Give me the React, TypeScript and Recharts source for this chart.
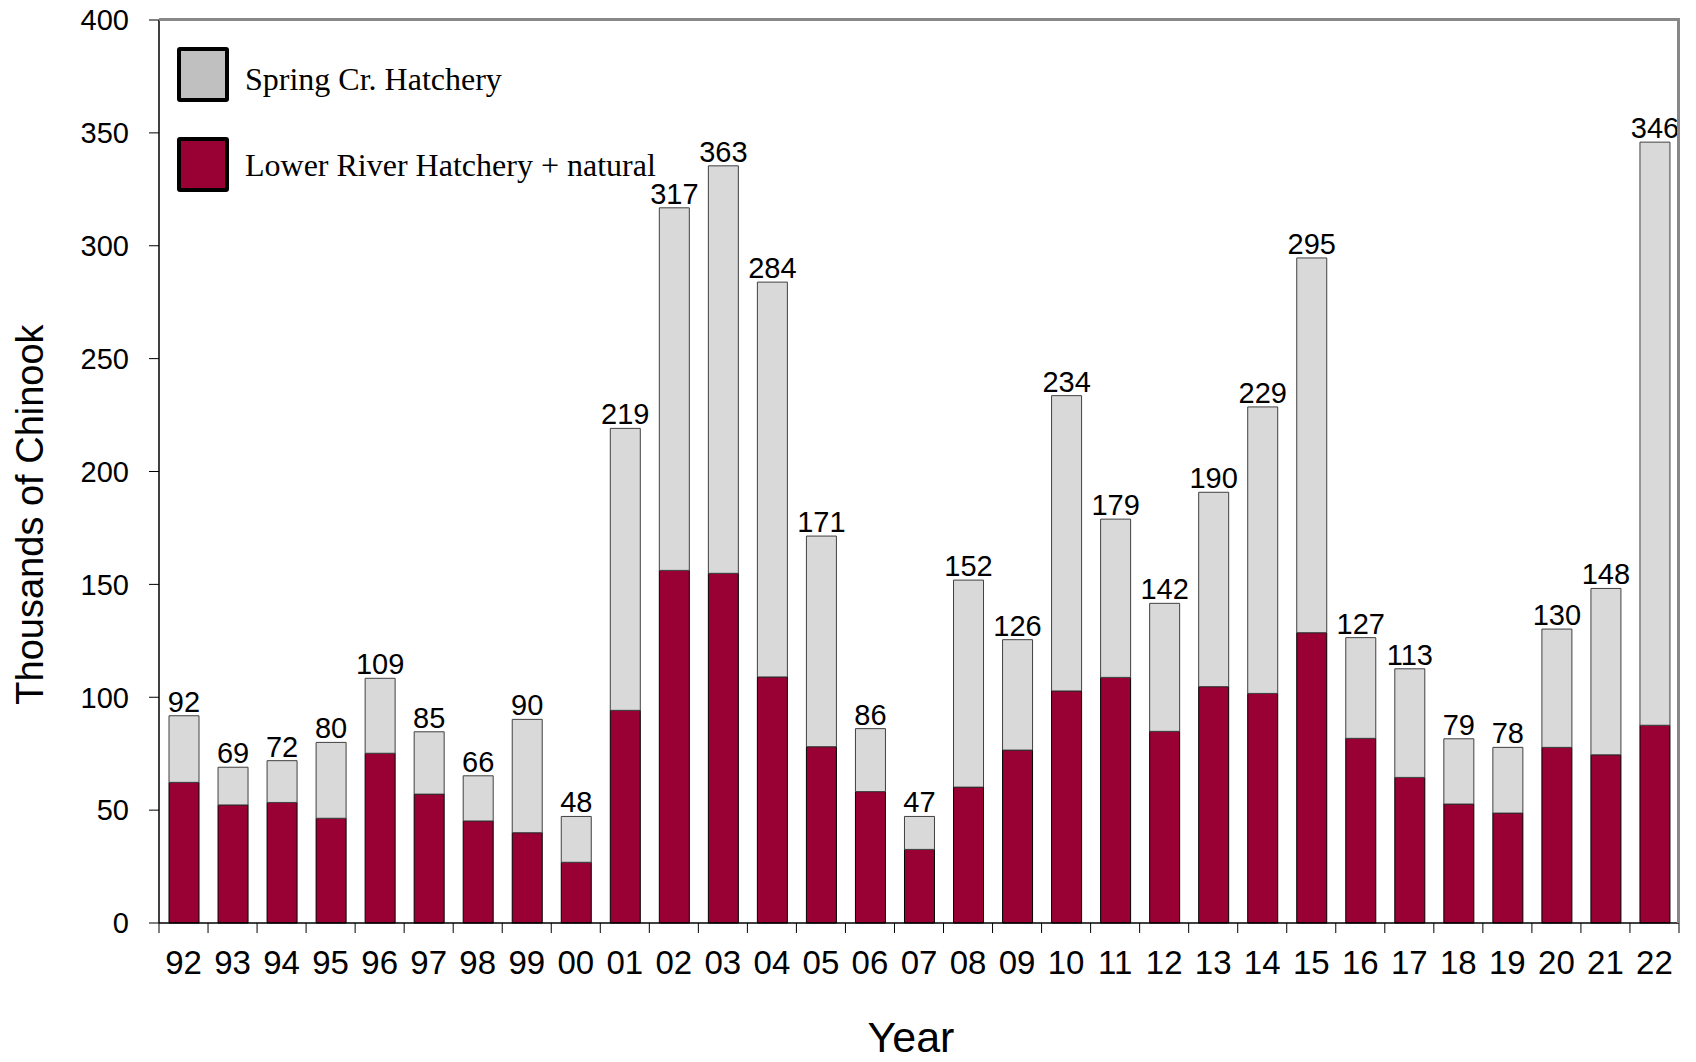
import { BarChart, Bar, XAxis, YAxis, Legend, LabelList } from "recharts";

const years = ["92", "93", "94", "95", "96", "97", "98", "99", "00", "01", "02", "03", "04", "05", "06", "07", "08", "09", "10", "11", "12", "13", "14", "15", "16", "17", "18", "19", "20", "21", "22"];

// Lower River Hatchery + natural (thousands)
const lowerRiver = [62.3, 52.3, 53.4, 46.4, 75.2, 57.1, 45.2, 40.0, 26.9, 94.2, 156.2, 154.9, 109.0, 78.1, 58.2, 32.6, 60.2, 76.6, 102.8, 108.8, 84.9, 104.7, 101.7, 128.6, 81.8, 64.5, 52.7, 48.7, 77.8, 74.5, 87.6];

// Spring Cr. Hatchery (thousands), stacked on top
const springCreek = [29.5, 16.7, 18.5, 33.6, 33.2, 27.6, 20.0, 50.2, 20.3, 124.9, 160.6, 180.5, 174.9, 93.3, 27.9, 14.6, 91.7, 48.9, 130.8, 70.1, 56.7, 86.1, 126.9, 166.0, 44.6, 48.1, 28.9, 29.1, 52.4, 73.7, 258.3];

// printed totals above each bar
const totalLabels = [92, 69, 72, 80, 109, 85, 66, 90, 48, 219, 317, 363, 284, 171, 86, 47, 152, 126, 234, 179, 142, 190, 229, 295, 127, 113, 79, 78, 130, 148, 346];

const yTicks = [0, 50, 100, 150, 200, 250, 300, 350, 400];

const SANS = "'Liberation Sans', Arial, sans-serif";
const SERIF = "'Liberation Serif', 'Times New Roman', serif";
const RED = "#990033";
const GREY = "#d9d9d9";

const W = 1696;
const H = 1062;
const PLOT_LEFT = 159;
const PLOT_RIGHT = 1679;
const STEP = (PLOT_RIGHT - PLOT_LEFT) / years.length;

const data = years.map((y, i) => ({
  year: y,
  lower: lowerRiver[i],
  spring: springCreek[i],
  label: totalLabels[i],
}));

function YearTick(props: any) {
  const { x, y, payload, index } = props;
  const axisY = y - 28;
  return (
    <g>
      <line x1={x - STEP / 2} x2={x - STEP / 2} y1={axisY} y2={axisY + 10} stroke="#000" strokeWidth={1} />
      {index === years.length - 1 && (
        <line x1={x + STEP / 2} x2={x + STEP / 2} y1={axisY} y2={axisY + 10} stroke="#000" strokeWidth={1} />
      )}
      <text x={x} y={y} dy="0.71em" textAnchor="middle" fontSize={33} fontFamily={SANS} fill="#000">
        {payload.value}
      </text>
    </g>
  );
}

function LegendBox({ payload }: any) {
  const items = [...(payload || [])].reverse();
  return (
    <div>
      {items.map((p: any, i: number) => (
        <div key={i} style={{ display: "flex", alignItems: "center", height: 55, marginBottom: i === 0 ? 35 : 0 }}>
          <div
            style={{
              width: 52,
              height: 55,
              boxSizing: "border-box",
              border: "4px solid #000",
              borderRadius: 3,
              background: p.value === "Spring Cr. Hatchery" ? "#c0c0c0" : RED,
            }}
          />
          <span
            style={{
              marginLeft: 16,
              fontFamily: SERIF,
              fontSize: 32,
              color: "#000",
              position: "relative",
              top: i === 0 ? 5 : 1,
              whiteSpace: "nowrap",
            }}
          >
            {p.value}
          </span>
        </div>
      ))}
    </div>
  );
}

export default function App() {
  return (
    <div style={{ position: "absolute", left: 0, top: 0, width: W, height: H, background: "#fff" }}>
      <BarChart width={W} height={H} data={data} margin={{ top: 20, right: W - PLOT_RIGHT, left: 79, bottom: 79 }}>
        <XAxis
          dataKey="year"
          interval={0}
          height={60}
          tickSize={10}
          tickMargin={18}
          tickLine={false}
          axisLine={{ stroke: "#000", strokeWidth: 1.5 }}
          tick={<YearTick />}
          label={{
            content: ({ viewBox }: any) => (
              <text
                x={viewBox.x + viewBox.width / 2 - 8}
                y={1052}
                textAnchor="middle"
                fontSize={43}
                fontFamily={SANS}
                fill="#000"
              >
                Year
              </text>
            ),
          }}
        />
        <YAxis
          width={80}
          domain={[0, 400]}
          ticks={yTicks}
          interval={0}
          tickSize={10}
          tickMargin={20}
          tickLine={{ stroke: "#000" }}
          axisLine={{ stroke: "#000", strokeWidth: 1.5 }}
          tick={{ fontSize: 29, fontFamily: SANS, fill: "#000" }}
          label={{
            content: ({ viewBox }: any) => {
              const cx = 43;
              const cy = viewBox.y + viewBox.height / 2 + 43;
              return (
                <text
                  x={cx}
                  y={cy}
                  transform={`rotate(-90, ${cx}, ${cy})`}
                  textAnchor="middle"
                  fontSize={38}
                  fontFamily={SANS}
                  fill="#000"
                >
                  Thousands of Chinook
                </text>
              );
            },
          }}
        />
        <Legend
          layout="vertical"
          align="center"
          verticalAlign="middle"
          wrapperStyle={{ left: 177, top: 47, width: 520 }}
          content={<LegendBox />}
        />
        <Bar
          dataKey="lower"
          name="Lower River Hatchery + natural"
          stackId="a"
          fill={RED}
          stroke="#000"
          strokeWidth={1}
          barSize={30}
          isAnimationActive={false}
        />
        <Bar
          dataKey="spring"
          name="Spring Cr. Hatchery"
          stackId="a"
          fill={GREY}
          stroke="#404040"
          strokeWidth={1}
          barSize={30}
          isAnimationActive={false}
        >
          <LabelList dataKey="label" position="top" offset={4} fill="#000" fontSize={29} fontFamily={SANS} />
        </Bar>
      </BarChart>
      <div
        style={{
          position: "absolute",
          left: PLOT_LEFT,
          top: 18,
          width: PLOT_RIGHT + 1 - PLOT_LEFT,
          height: 923 - 18,
          boxSizing: "border-box",
          borderTop: "3px solid #888",
          borderRight: "3px solid #888",
          pointerEvents: "none",
        }}
      />
    </div>
  );
}
